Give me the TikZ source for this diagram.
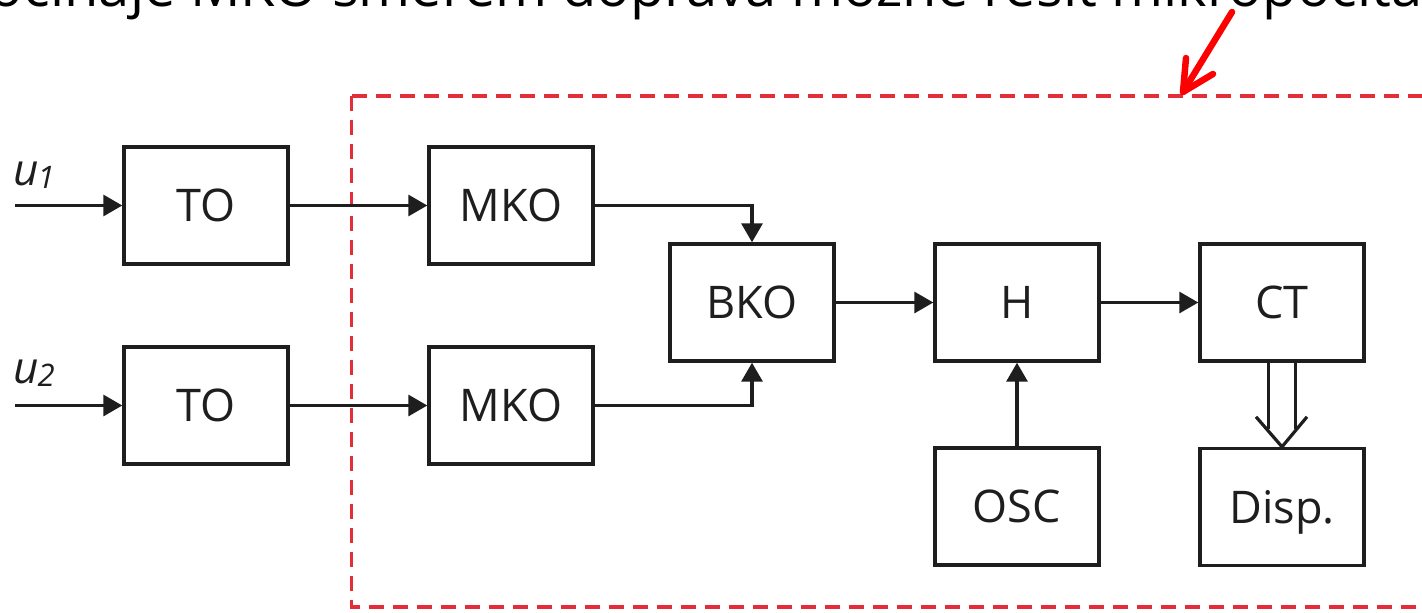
\documentclass[tikz,border=0pt]{standalone}
\usepackage{fontspec}
\setmainfont{Open Sans}
\usetikzlibrary{arrows.meta,calc}
\definecolor{ink}{RGB}{30,30,30}
\definecolor{dashred}{RGB}{228,45,58}
\begin{document}
\begin{tikzpicture}[x=1pt,y=-1pt,
  blk/.style={draw=ink, line width=3.4pt, minimum width=164pt, minimum height=117pt,
    inner sep=0pt, text=ink, text height=32pt, text depth=0pt,
    font=\fontsize{45}{54}\selectfont},
  conn/.style={draw=ink, line width=3.2pt, -{Triangle[length=19pt,width=21pt]}},
  plain/.style={draw=ink, line width=3.2pt},
  ulabel/.style={anchor=base west, inner sep=0pt, text=ink, font=\fontsize{44}{50}\selectfont\itshape},
  redbox/.style={draw=dashred, line width=3.5pt, dash pattern=on 15pt off 9pt},
  redarrow/.style={draw=red, line width=6.5pt, line cap=round, line join=round}
]
\useasboundingbox (0,0) rectangle (1422,613);
\clip (0,0) rectangle (1422,613);
\fill[white] (0,0) rectangle (1422,613);

% title (cut off at the top)
\node[anchor=base west, inner sep=0pt, font=\fontsize{56}{66}\selectfont] (title) at (-44,6)
  {Počínaje MKO směrem doprava možné řešit mikropočítačem};

% red dashed frame
\draw[redbox] (351.5,96) -- (1450,96) (351.5,96) -- (351.5,607) -- (1450,607);

% blocks
\node[blk] (TO1) at (206,205.5) {TO};
\node[blk] (TO2) at (206,405.5) {TO};
\node[blk] (MKO1) at (511,205.5) {MKO};
\node[blk] (MKO2) at (511,405.5) {MKO};
\node[blk] (BKO) at (752,302.5) {BKO};
\node[blk] (H) at (1017,302.5) {H};
\node[blk] (CT) at (1282,302.5) {CT};
\node[blk] (OSC) at (1017,506.5) {OSC};
\node[blk] (Disp) at (1282,507) {Disp.};

% inputs
\coordinate (in1) at (15,205.5);
\coordinate (in2) at (15,405.5);
\node[ulabel] (u1) at (13,185) {u\kern-1pt\raisebox{-3pt}{\fontsize{31}{31}\selectfont 1}};
\node[ulabel] (u2) at (13,383) {u\kern-1pt\raisebox{-3pt}{\fontsize{31}{31}\selectfont 2}};

% connectors
\draw[conn] (in1) -- (TO1);
\draw[conn] (in2) -- (TO2);
\draw[conn] (TO1) -- (MKO1);
\draw[conn] (TO2) -- (MKO2);
\draw[conn] (MKO1.east) -| (BKO.north);
\draw[conn] (MKO2.east) -| (BKO.south);
\draw[conn] (BKO) -- (H);
\draw[conn] (H) -- (CT);
\draw[conn] (OSC) -- (H);

% CT -> Disp double (bus) arrow
\draw[plain] ($(CT.south)+(-13.5,0)$) -- ($(CT.south)+(-13.5,66)$);
\draw[plain] ($(CT.south)+(13.5,0)$) -- ($(CT.south)+(13.5,66)$);
\draw[plain, line join=miter] ($(Disp.north)+(-26,-30)$) -- (Disp.north) -- ($(Disp.north)+(25,-30)$);

% red pointer arrow
\coordinate (rstart) at (1232,12);
\coordinate (rtip) at (1183,92);
\draw[redarrow] (rstart) -- (rtip);
\draw[redarrow] (1186,58) -- (rtip) -- (1213,74);
\end{tikzpicture}
\end{document}
